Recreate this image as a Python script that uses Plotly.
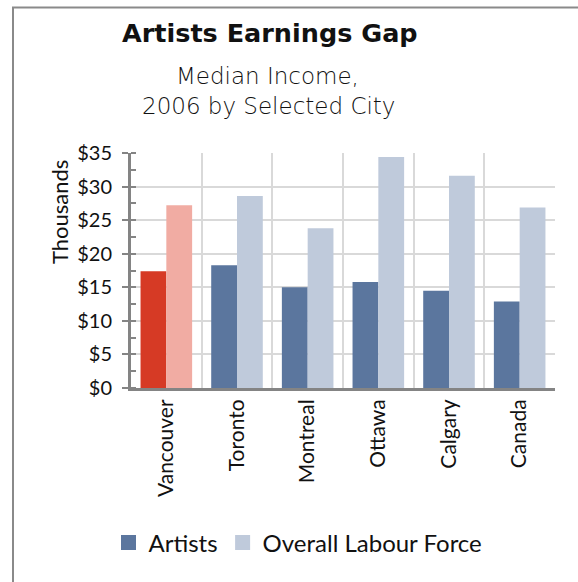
import plotly.graph_objects as go

# Median income (thousands of dollars), 2006
cities = ["Vancouver", "Toronto", "Montreal", "Ottawa", "Calgary", "Canada"]
artists = [17.4, 18.3, 15.0, 15.8, 14.5, 12.9]
labour_force = [27.2, 28.6, 23.8, 34.4, 31.6, 26.9]
y_ticks = [0, 5, 10, 15, 20, 25, 30, 35]
y_tick_labels = ["$0", "$5", "$10", "$15", "$20", "$25", "$30", "$35"]

BLUE = "#5b769e"
LIGHT_BLUE = "#bfcadb"
RED = "#d63a25"
PINK = "#f1aca3"
AXIS = "#848484"
GRID = "#d9d9d9"

W, H = 578, 582
L, R, T, B = 131, 23, 153, 194
PW, PH = W - L - R, H - T - B


def px_x(x):
    return (x - L) / PW


def px_y(y):
    return (H - B - y) / PH


artist_colors = [RED] + [BLUE] * (len(cities) - 1)
labour_colors = [PINK] + [LIGHT_BLUE] * (len(cities) - 1)

fig = go.Figure()
fig.add_trace(go.Bar(x=cities, y=artists, name="Artists",
                     marker=dict(color=artist_colors, line=dict(width=0)),
                     showlegend=False))
fig.add_trace(go.Bar(x=cities, y=labour_force, name="Overall Labour Force",
                     marker=dict(color=labour_colors, line=dict(width=0)),
                     showlegend=False))

# legend swatches
for name, color in [("Artists", BLUE), ("Overall Labour Force", LIGHT_BLUE)]:
    fig.add_trace(go.Scatter(x=[None], y=[None], mode="markers", name=name,
                             marker=dict(symbol="square", size=15, color=color)))

font_body = "Lato, 'Open Sans', sans-serif"
font_head = "'DejaVu Sans', 'Open Sans', sans-serif"

fig.update_layout(
    width=W, height=H,
    margin=dict(l=L, r=R, t=T, b=B),
    paper_bgcolor="white", plot_bgcolor="white",
    barmode="group", bargap=0.27, bargroupgap=0,
    font=dict(family=font_body, color="#111111"),
    showlegend=True,
    legend=dict(orientation="h", x=px_x(298), xanchor="center",
                y=px_y(543), yanchor="middle",
                font=dict(size=24, family=font_body, color="#111111"),
                itemwidth=30, tracegroupgap=0),
    xaxis=dict(
        type="category", tickson="boundaries",
        showgrid=True, gridcolor=GRID, gridwidth=2,
        showline=True, linecolor=AXIS, linewidth=3,
        ticks="", tickangle=-90,
        tickfont=dict(size=21, family=font_body, color="#111111"),
        range=[-0.5, 5.5],
    ),
    yaxis=dict(
        range=[0, 35], tickvals=y_ticks, ticktext=y_tick_labels,
        showgrid=True, gridcolor=GRID, gridwidth=2, zeroline=False,
        showline=True, linecolor=AXIS, linewidth=3,
        ticks="outside", ticklen=6, tickwidth=2, tickcolor=AXIS,
        ticklabelstandoff=6,
        tickfont=dict(size=20, family=font_body, color="#111111"),
        minor=dict(dtick=2.5, ticks="inside", ticklen=5, tickwidth=2,
                   tickcolor=AXIS, showgrid=False),
    ),
    annotations=[
        dict(text="<b>Artists Earnings Gap</b>", x=px_x(270), y=px_y(33),
             xref="paper", yref="paper", showarrow=False,
             xanchor="center", yanchor="middle",
             font=dict(size=25.5, family=font_head, color="#111111")),
        dict(text="Median Income,", x=px_x(267), y=px_y(76),
             xref="paper", yref="paper", showarrow=False,
             xanchor="center", yanchor="middle",
             font=dict(size=23, family=font_head, weight=200, color="#111111")),
        dict(text="2006 by Selected City", x=px_x(268), y=px_y(106),
             xref="paper", yref="paper", showarrow=False,
             xanchor="center", yanchor="middle",
             font=dict(size=23, family=font_head, weight=200, color="#111111")),
        dict(text="Thousands", x=px_x(59), y=px_y(212),
             xref="paper", yref="paper", showarrow=False, textangle=-90,
             xanchor="center", yanchor="middle",
             font=dict(size=22, family=font_body, color="#111111")),
    ],
    shapes=[
        dict(type="line", xref="paper", yref="paper",
             x0=px_x(13), y0=px_y(H), x1=px_x(13), y1=px_y(7.5),
             line=dict(color="#8a8a8a", width=2)),
        dict(type="line", xref="paper", yref="paper",
             x0=px_x(12), y0=px_y(7.5), x1=px_x(W), y1=px_y(7.5),
             line=dict(color="#8a8a8a", width=2)),
    ],
)

fig.write_html("out.html")
